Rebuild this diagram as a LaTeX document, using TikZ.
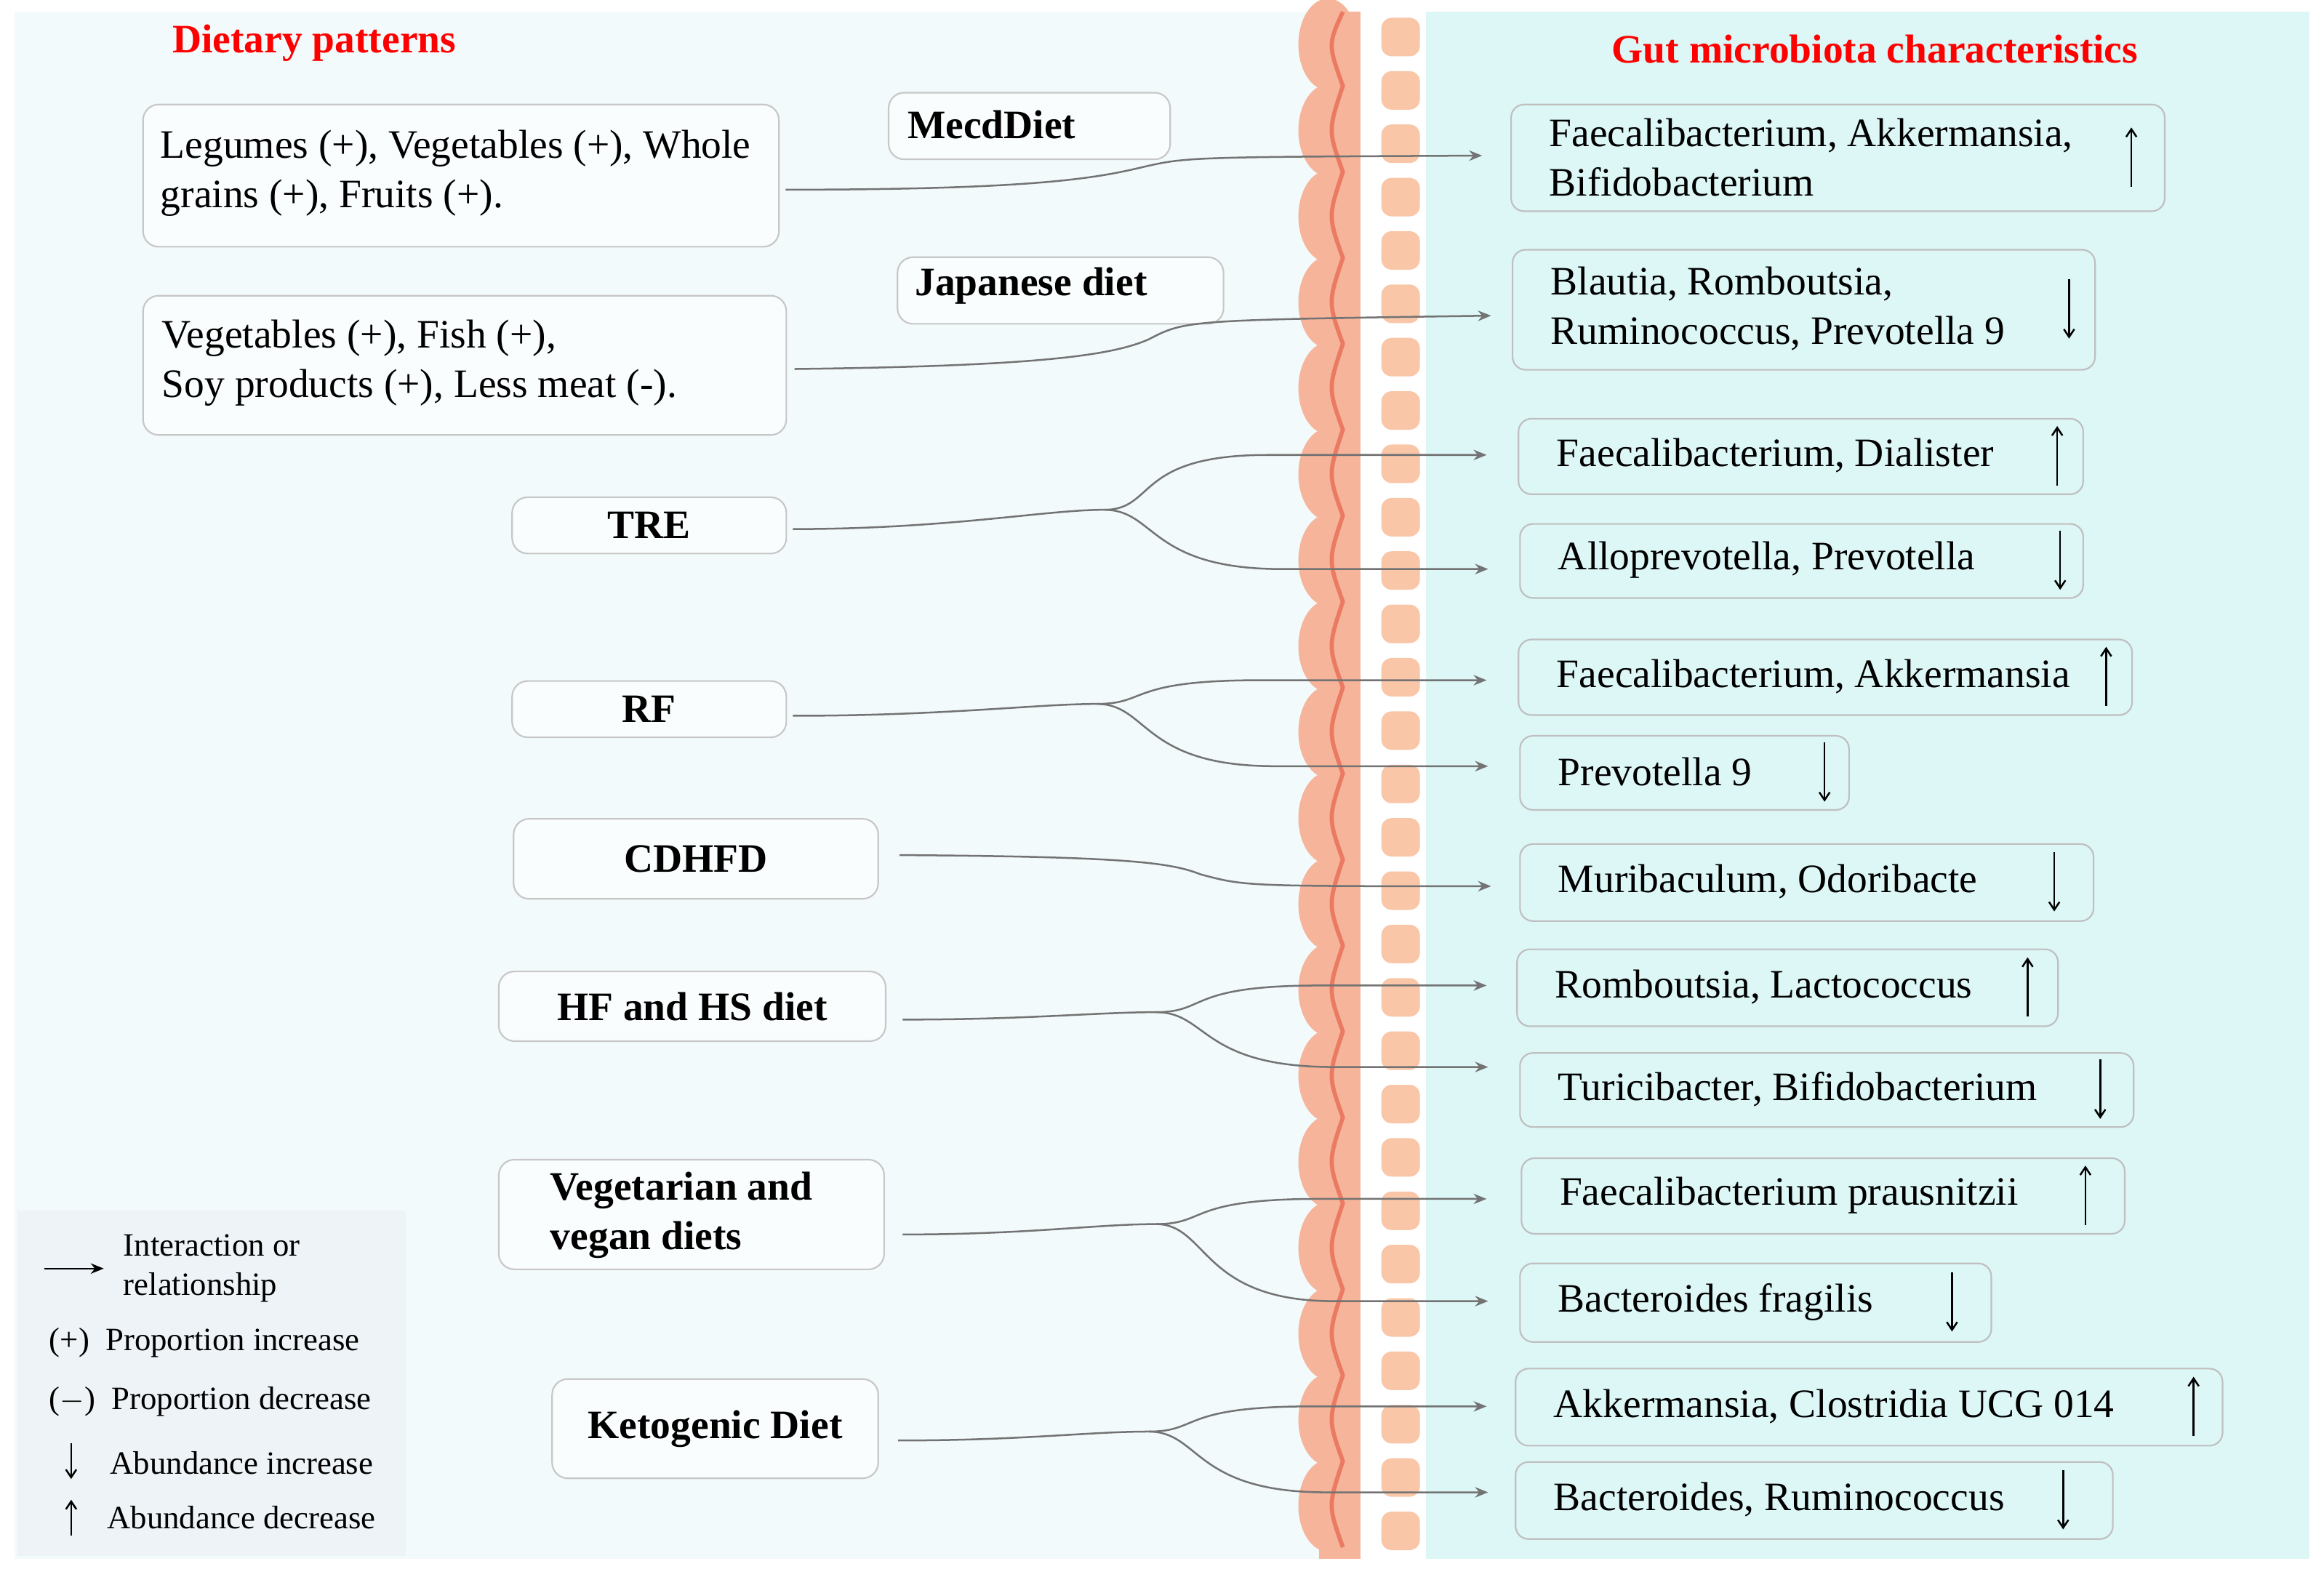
\documentclass[tikz,border=0pt]{standalone}
\usepackage{fontspec}
\setmainfont{Liberation Serif}
\usetikzlibrary{arrows.meta}
\definecolor{lbg}{HTML}{F3FAFB}
\definecolor{rbg}{HTML}{DDF6F6}
\definecolor{wall}{HTML}{F6B49A}
\definecolor{wallred}{HTML}{EA7B62}
\definecolor{cell}{HTML}{F9C6A8}
\definecolor{legbg}{HTML}{EDF3F6}
\newcommand{\U}{0.02cm}
\tikzset{
 lbox/.style={draw=black!22, fill=white!60!lbg, rounded corners=6pt, line width=0.6pt, anchor=north west, inner sep=0pt},
 rbox/.style={draw=black!25, fill=rbg, rounded corners=5pt, line width=0.6pt, anchor=north west, inner sep=0pt},
 txt/.style={font=\fontsize{15.5}{19}\selectfont, anchor=west, align=left, inner sep=0pt},
 btxt/.style={font=\fontsize{15.5}{19}\selectfont\bfseries, align=left, inner sep=0pt},
 conn/.style={draw=black!55, line width=0.7pt, -{Stealth[length=5pt,width=4pt]}},
 connp/.style={draw=black!55, line width=0.7pt},
 ar/.style={line width=0.7pt, -{Straight Barb[length=3pt,width=4pt]}},
 ttl/.style={font=\fontsize{15.5}{19}\selectfont\bfseries, text=red},
 leg/.style={font=\fontsize{12.5}{15}\selectfont, anchor=west, align=left, inner sep=0pt}
}
\newcommand{\LB}[5]{% name x y w h
 \node[lbox, minimum width={#4*\U}, minimum height={#5*\U}] (#1) at (#2,#3) {};}
\begin{document}
\begin{tikzpicture}[x=0.02cm,y=-0.02cm]
\useasboundingbox (0,0) rectangle (1568,1064);
\fill[white] (0,0) rectangle (1568,1064);
\fill[lbg] (10,8) rectangle (900,1052);
\fill[rbg] (962,8) rectangle (1558,1052);
% intestine wall
\fill[wall] (890,8) rectangle (918,1052);
\foreach \i in {0,...,17} {
  \fill[wall] (896,{30+\i*58}) ellipse [x radius=20, y radius=31];
}
\draw[wallred, line width=1.6pt] (906,8) \foreach \i in {0,...,17} { .. controls (896,{30+\i*58}) .. (906,{58+\i*58}) };
\foreach \i in {0,...,28} {
  \fill[cell, rounded corners=4pt] (932,{12+\i*36}) rectangle (958,{38+\i*36});
}
% titles
\node[ttl] (t1) at (212,29) {Dietary patterns};
\node[ttl] (t2) at (1265,33) {Gut microbiota characteristics};
% left boxes
\LB{leg}{96}{70}{429}{96}
\node[txt] (legt) at (108,117) {Legumes (+), Vegetables (+), Whole\\grains (+), Fruits (+).};
\LB{med}{599}{62}{190}{45}
\node[btxt, anchor=west] (medt) at (612,84) {MecdDiet};
\LB{jap}{605}{173}{220}{45}
\node[btxt, anchor=west] (japt) at (617,193) {Japanese diet};
\LB{veg}{96}{199}{434}{94}
\node[txt] (vegt) at (109,245) {Vegetables (+), Fish (+),\\Soy products (+), Less meat (-).};
\LB{tre}{345}{335}{185}{38}
\node[btxt] at (tre.center) {TRE};
\LB{rf}{345}{459}{185}{38}
\node[btxt] at (rf.center) {RF};
\LB{cd}{346}{552}{246}{54}
\node[btxt] at (cd.center) {CDHFD};
\LB{hf}{336}{655}{261}{47}
\node[btxt] at (hf.center) {HF and HS diet};
\LB{vv}{336}{782}{260}{74}
\node[btxt, anchor=west] at (371,820) {Vegetarian and\\vegan diets};
\LB{keto}{372}{930}{220}{67}
\node[btxt] at (keto.center) {Ketogenic Diet};
% right boxes
\newcommand{\rb}[8]{% name x y w h text arrowx dir
 \node[rbox, minimum width={#4*\U}, minimum height={#5*\U}] (#1) at (#2,#3) {};
 \node[txt] at ({#2+26},{#3+#5/2}) {#6};
 \ifnum#8=1 \draw[ar] (#7,{#3+#5/2+20}) -- (#7,{#3+#5/2-20}); \else \draw[ar] (#7,{#3+#5/2-20}) -- (#7,{#3+#5/2+20}); \fi
}
\rb{r1}{1019}{70}{441}{72}{Faecalibacterium, Akkermansia,\\Bifidobacterium}{1438}{1}
\rb{r2}{1020}{168}{393}{81}{Blautia, Romboutsia,\\Ruminococcus, Prevotella 9}{1396}{0}
\rb{r3}{1024}{282}{381}{51}{Faecalibacterium, Dialister}{1388}{1}
\rb{r4}{1025}{353}{380}{50}{Alloprevotella, Prevotella}{1390}{0}
\rb{r5}{1024}{431}{414}{51}{Faecalibacterium, Akkermansia}{1421}{1}
\rb{r6}{1025}{496}{222}{50}{Prevotella 9}{1231}{0}
\rb{r7}{1025}{569}{387}{52}{Muribaculum, Odoribacte}{1386}{0}
\rb{r8}{1023}{640}{365}{52}{Romboutsia, Lactococcus}{1368}{1}
\rb{r9}{1025}{710}{414}{50}{Turicibacter, Bifidobacterium}{1417}{0}
\rb{r10}{1026}{781}{407}{51}{Faecalibacterium prausnitzii}{1407}{1}
\rb{r11}{1025}{852}{318}{53}{Bacteroides fragilis}{1317}{0}
\rb{r12}{1022}{923}{477}{52}{Akkermansia, Clostridia UCG 014}{1480}{1}
\rb{r13}{1022}{986}{403}{52}{Bacteroides, Ruminococcus}{1392}{0}
% connectors: single
\coordinate (e1) at (1000,105);
\draw[conn] (530,128) .. controls (700,128) and (740,120) .. (770,113) .. controls (800,106) .. (e1);
\coordinate (e2) at (1006,213);
\draw[conn] (536,249) .. controls (700,247) and (750,240) .. (775,229) .. controls (800,216) .. (e2);
\coordinate (e7) at (1006,598);
\draw[conn] (607,577) .. controls (760,578) and (790,582) .. (810,590) .. controls (840,598) .. (e7);
% branching
\newcommand{\br}[6]{% sx sy bx by e1y e2y
 \draw[connp] (#1,#2) .. controls ({(#1+#3)/2},#2) and ({#3-40},#4) .. (#3,#4);
 \draw[conn] (#3,#4) .. controls ({#3+35},#4) and ({#3+20},#5) .. ({#3+110},#5) -- (1003,#5);
 \draw[conn] (#3,#4) .. controls ({#3+35},#4) and ({#3+30},#6) .. ({#3+120},#6) -- (1004,#6);
}
\br{535}{357}{745}{344}{307}{384}
\br{535}{483}{740}{475}{459}{517}
\br{609}{688}{780}{683}{665}{720}
\br{609}{833}{780}{826}{809}{878}
\br{606}{972}{775}{966}{949}{1007}
% legend
\fill[legbg] (12,817) rectangle (274,1050);
\draw[-{Stealth[length=5pt,width=4pt]}, line width=0.7pt] (30,856) -- (70,856);
\node[leg] at (83,856) {Interaction or\\relationship};
\node[leg] at (33,906) {(+)\ \ Proportion increase};
\node[leg] at (33,946) {($-$)\ \ Proportion decrease};
\draw[ar] (48,974) -- (48,998);
\node[leg] at (74,987) {Abundance increase};
\draw[ar] (48,1036) -- (48,1012);
\node[leg] at (72,1024) {Abundance decrease};
\end{tikzpicture}
\end{document}
